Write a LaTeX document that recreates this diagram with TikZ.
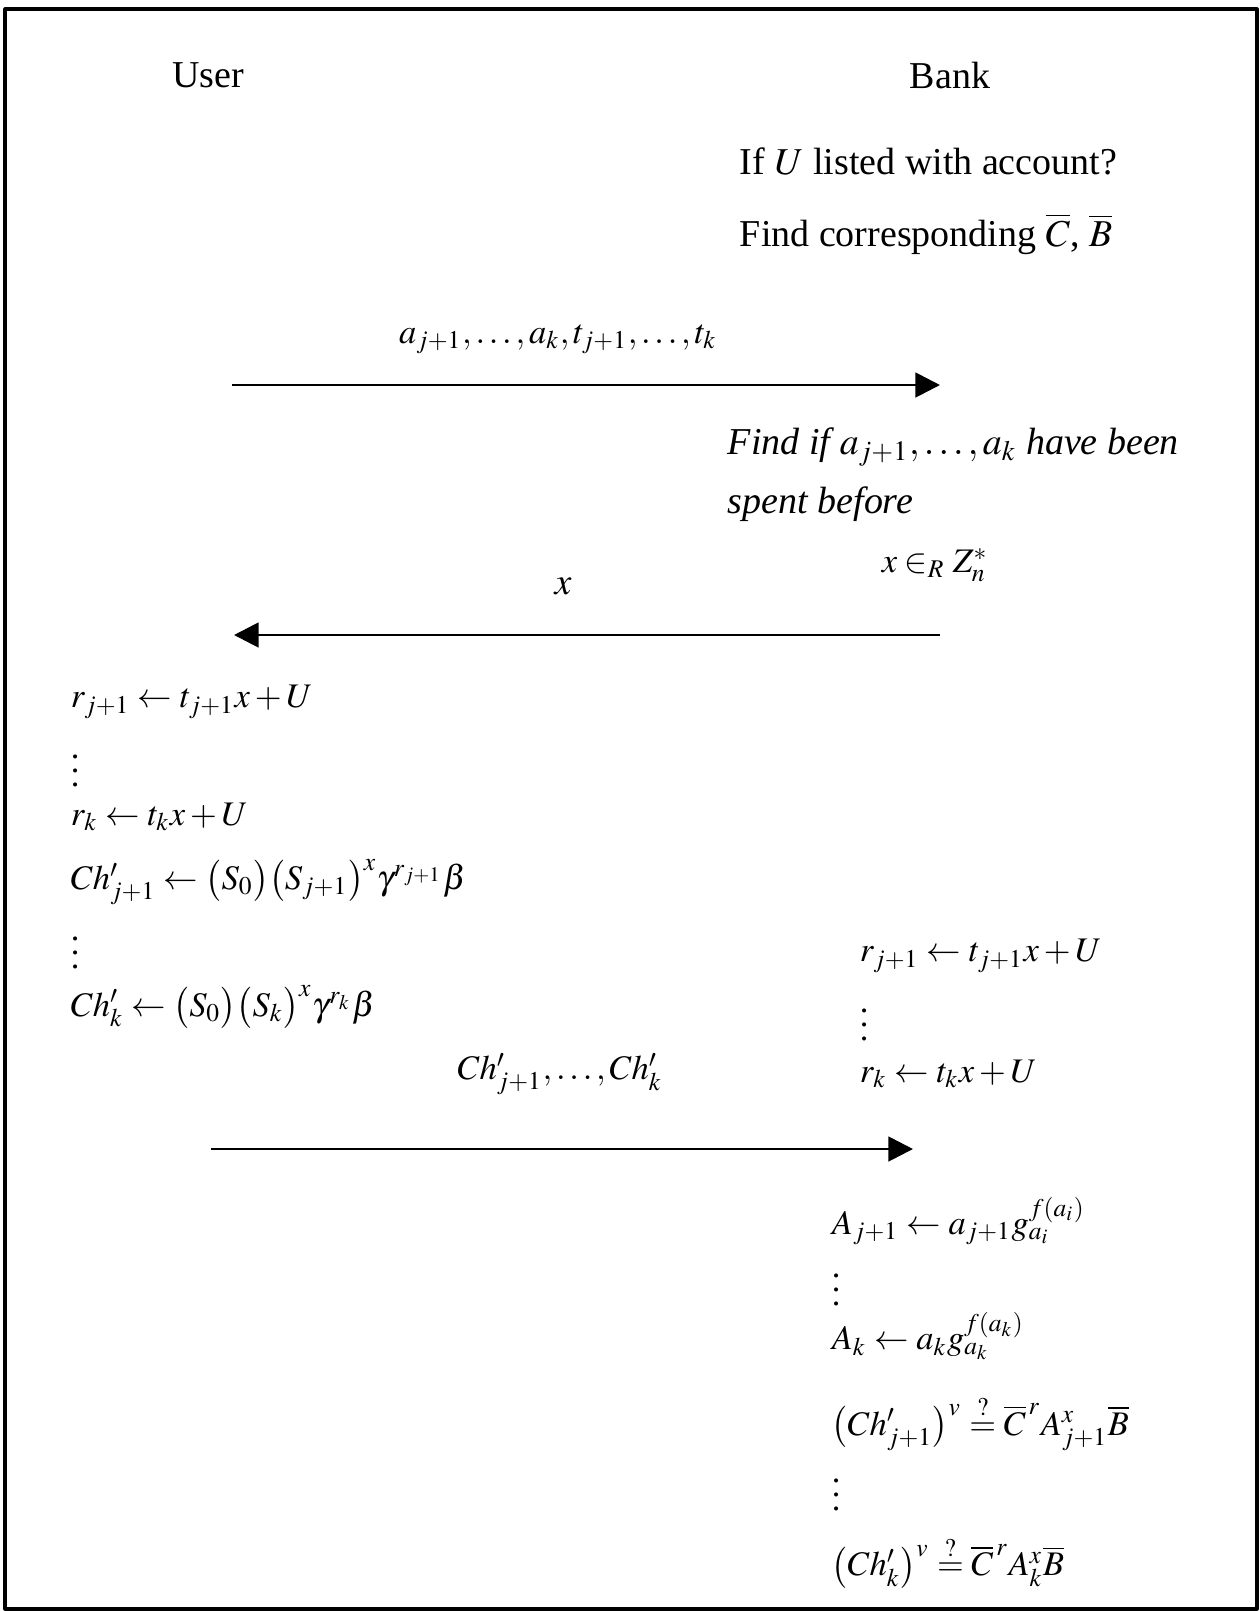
\documentclass[tikz,border=0pt]{standalone}
\usepackage{mathptmx}
\usepackage{fontspec}
\setmainfont{Liberation Serif}
\usetikzlibrary{arrows.meta}
\tikzset{eqn/.style={font=\fontsize{9.8}{12}\selectfont}}
\begin{document}
\begin{tikzpicture}[x=0.01cm, y=-0.01cm, font=\fontsize{10.8}{13}\selectfont, line width=0.8pt, line join=round, every node/.style={inner sep=1pt}, >={Triangle[length=7pt, width=7pt]}]
\useasboundingbox (0,0) rectangle (1260,1611);
\draw[line width=0.9pt] (5,9) rectangle (1257,1609);
\node (user) at (208,75) {User};
\node (bank) at (950,75) {Bank};
\node[right] (listed) at (735,161) {If $U$ listed with account?};
\node[right] (corr) at (735,234) {Find corresponding $\overline{C}$, $\overline{B}$};
\coordinate (m1s) at (232,385);
\coordinate (m1e) at (940,385);
\draw[->] (m1s) -- (m1e);
\node[eqn] (m1) at (558,339) {$a_{j+1},\ldots,a_k,t_{j+1},\ldots,t_k$};
\node[right] (spent) at (723,447) {\itshape Find if $a_{j+1},\ldots,a_k$ have been};
\node[right] (before) at (723,504) {\itshape spent before};
\node[eqn] (rand) at (935,565) {$x\in_R Z_n^*$};
\coordinate (m2s) at (940,635);
\coordinate (m2e) at (234,635);
\draw[->] (m2s) -- (m2e);
\node (m2) at (563,586) {$x$};
\node[right, eqn] (ur1) at (66,702) {$r_{j+1}\leftarrow t_{j+1}x+U$};
\node[right, eqn] (ud1) at (66,760) {$\vdots$};
\node[right, eqn] (urk) at (66,817) {$r_k\leftarrow t_kx+U$};
\node[right, eqn] (uc1) at (66,882) {$Ch'_{j+1}\leftarrow \bigl(S_0\bigr)\bigl(S_{j+1}\bigr)^x\gamma^{r_{j+1}}\beta$};
\node[right, eqn] (ud2) at (66,942) {$\vdots$};
\node[right, eqn] (uck) at (66,1007) {$Ch'_k\leftarrow \bigl(S_0\bigr)\bigl(S_k\bigr)^x\gamma^{r_k}\beta$};
\node[right, eqn] (br1) at (855,956) {$r_{j+1}\leftarrow t_{j+1}x+U$};
\node[right, eqn] (bd1) at (855,1014) {$\vdots$};
\node[right, eqn] (brk) at (855,1074) {$r_k\leftarrow t_kx+U$};
\coordinate (m3s) at (211,1149);
\coordinate (m3e) at (913,1149);
\draw[->] (m3s) -- (m3e);
\node[eqn] (m3) at (560,1074) {$Ch'_{j+1},\ldots,Ch'_k$};
\node[right, eqn] (ba1) at (827,1221) {$A_{j+1}\leftarrow a_{j+1}g_{a_i}^{f(a_i)}$};
\node[right, eqn] (bd2) at (827,1279) {$\vdots$};
\node[right, eqn] (bak) at (827,1336) {$A_k\leftarrow a_kg_{a_k}^{f(a_k)}$};
\node[right, eqn] (bv1) at (827,1423) {$\bigl(Ch'_{j+1}\bigr)^v\stackrel{?}{=}\overline{C}^{\,r}A_{j+1}^x\overline{B}$};
\node[right, eqn] (bd3) at (827,1484) {$\vdots$};
\node[right, eqn] (bvk) at (827,1562) {$\bigl(Ch'_k\bigr)^v\stackrel{?}{=}\overline{C}^{\,r}A_k^x\overline{B}$};
\end{tikzpicture}
\end{document}
